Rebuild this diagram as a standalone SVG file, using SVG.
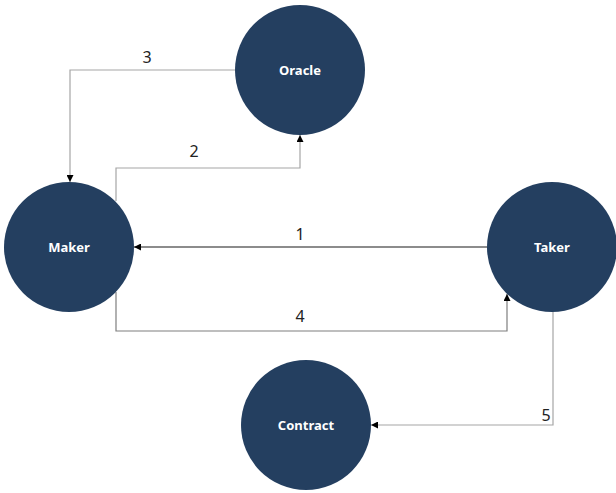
<svg xmlns="http://www.w3.org/2000/svg" width="616" height="493" viewBox="0 0 616 493">
  <style>
    .node { fill: #243f60; }
    .node-label { font-family: "Noto Sans", "Open Sans", sans-serif; font-size: 13px; font-weight: bold; fill: #ffffff; text-anchor: middle; }
    .edge { fill: none; stroke-width: 1.2; }
    .edge-gray { stroke: #a6a6a6; }
    .edge-mid { stroke: #7f7f7f; }
    .edge-dark { stroke: #1a1a1a; }
    .edge-label { font-family: "Noto Sans", "Open Sans", sans-serif; font-size: 16px; fill: #222222; text-anchor: middle; }
  </style>
  <defs>
    <marker id="arrow" viewBox="0 0 10 10" refX="10" refY="5" markerWidth="7" markerHeight="7" markerUnits="userSpaceOnUse" orient="auto">
      <path d="M0,0 L10,5 L0,10 Z" fill="#000000"/>
    </marker>
  </defs>
  <rect width="616" height="493" fill="#ffffff"/>

  <g id="connectors">
    <!-- 3: Oracle -> Maker -->
    <path class="edge edge-gray" d="M235,70 H70 V182" marker-end="url(#arrow)"/>
    <text class="edge-label" x="147" y="63">3</text>
    <!-- 2: Maker -> Oracle -->
    <path class="edge edge-gray" d="M116,201 V168 H300 V135" marker-end="url(#arrow)"/>
    <text class="edge-label" x="194" y="157">2</text>
    <!-- 1: Taker -> Maker -->
    <path class="edge edge-dark" d="M487,247 H134" marker-end="url(#arrow)"/>
    <text class="edge-label" x="300" y="240">1</text>
    <!-- 4: Maker -> Taker -->
    <path class="edge edge-mid" d="M116,292 V331 H507 V294" marker-end="url(#arrow)"/>
    <text class="edge-label" x="300" y="322">4</text>
    <!-- 5: Taker -> Contract -->
    <path class="edge edge-gray" d="M553,311 V425 H371" marker-end="url(#arrow)"/>
    <text class="edge-label" x="546" y="421">5</text>
  </g>

  <g id="oracle">
    <circle class="node" cx="300" cy="70" r="65"/>
    <text class="node-label" x="300" y="75">Oracle</text>
  </g>
  <g id="maker">
    <circle class="node" cx="69" cy="247" r="65"/>
    <text class="node-label" x="69" y="252">Maker</text>
  </g>
  <g id="taker">
    <circle class="node" cx="552" cy="247" r="65"/>
    <text class="node-label" x="552" y="252">Taker</text>
  </g>
  <g id="contract">
    <circle class="node" cx="306" cy="425" r="65"/>
    <text class="node-label" x="306" y="430">Contract</text>
  </g>
</svg>
